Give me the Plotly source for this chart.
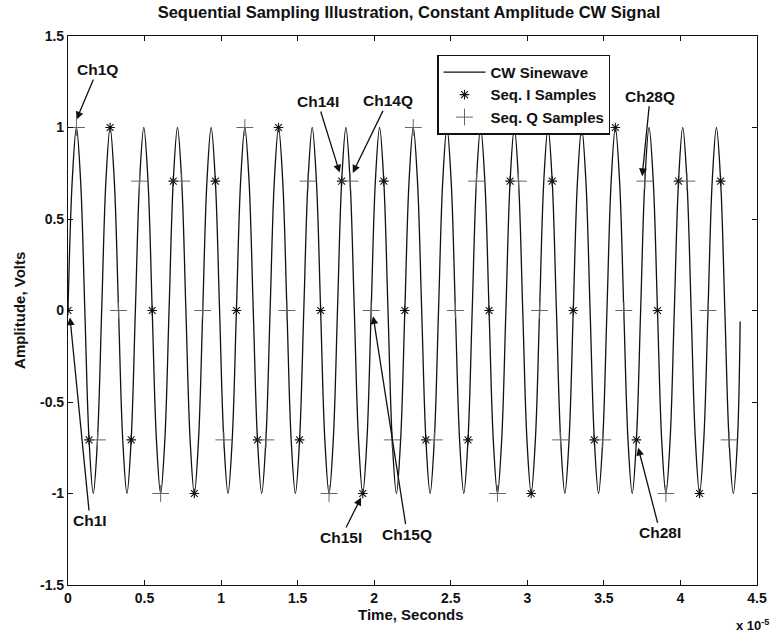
import plotly.graph_objects as go

# ---- data (time in units of 1e-5 s, amplitude in volts) ----
# CW sinewave vertices, read every 1/8 period (period ~0.22e-5 s), 20 cycles
cw_step = 0.0275
cw_v = [
    0, 0.707, 1, 0.707, 0, -0.707, -1, -0.707,
    0, 0.707, 1, 0.707, 0, -0.707, -1, -0.707,
    0, 0.707, 1, 0.707, 0, -0.707, -1, -0.707,
    0, 0.707, 1, 0.707, 0, -0.707, -1, -0.707,
    0, 0.707, 1, 0.707, 0, -0.707, -1, -0.707,
    0, 0.707, 1, 0.707, 0, -0.707, -1, -0.707,
    0, 0.707, 1, 0.707, 0, -0.707, -1, -0.707,
    0, 0.707, 1, 0.707, 0, -0.707, -1, -0.707,
    0, 0.707, 1, 0.707, 0, -0.707, -1, -0.707,
    0, 0.707, 1, 0.707, 0, -0.707, -1, -0.707,
    0, 0.707, 1, 0.707, 0, -0.707, -1, -0.707,
    0, 0.707, 1, 0.707, 0, -0.707, -1, -0.707,
    0, 0.707, 1, 0.707, 0, -0.707, -1, -0.707,
    0, 0.707, 1, 0.707, 0, -0.707, -1, -0.707,
    0, 0.707, 1, 0.707, 0, -0.707, -1, -0.707,
    0, 0.707, 1, 0.707, 0, -0.707, -1, -0.707,
    0, 0.707, 1, 0.707, 0, -0.707, -1, -0.707,
    0, 0.707, 1, 0.707, 0, -0.707, -1, -0.707,
    0, 0.707, 1, 0.707, 0, -0.707, -1, -0.707,
    0, 0.707, 1, 0.707, 0, -0.707, -1, -0.707,
]
cw_end_t = 4.39
cw_end_v = -0.06
cw_t = [i * cw_step for i in range(len(cw_v))] + [cw_end_t]
cw_v = cw_v + [cw_end_v]

i_t = [0, 0.1375, 0.275, 0.4125, 0.55, 0.6875, 0.825, 0.9625, 1.1, 1.2375,
       1.375, 1.5125, 1.65, 1.7875, 1.925, 2.0625, 2.2, 2.3375, 2.475, 2.6125,
       2.75, 2.8875, 3.025, 3.1625, 3.3, 3.4375, 3.575, 3.7125, 3.85, 3.9875,
       4.125, 4.2625]
i_v = [0, -0.707, 1, -0.707, 0, 0.707, -1, 0.707,
       0, -0.707, 1, -0.707, 0, 0.707, -1, 0.707,
       0, -0.707, 1, -0.707, 0, 0.707, -1, 0.707,
       0, -0.707, 1, -0.707, 0, 0.707, -1, 0.707]
q_t = [0.055, 0.1925, 0.33, 0.4675, 0.605, 0.7425, 0.88, 1.0175, 1.155, 1.2925,
       1.43, 1.5675, 1.705, 1.8425, 1.98, 2.1175, 2.255, 2.3925, 2.53, 2.6675,
       2.805, 2.9425, 3.08, 3.2175, 3.355, 3.4925, 3.63, 3.7675, 3.905, 4.0425,
       4.18, 4.3175]
q_v = [1, -0.707, 0, 0.707, -1, 0.707, 0, -0.707,
       1, -0.707, 0, 0.707, -1, 0.707, 0, -0.707,
       1, -0.707, 0, 0.707, -1, 0.707, 0, -0.707,
       1, -0.707, 0, 0.707, -1, 0.707, 0, -0.707]

x_ticks = [0, 0.5, 1, 1.5, 2, 2.5, 3, 3.5, 4, 4.5]
x_ticktext = ["0", "0.5", "1", "1.5", "2", "2.5", "3", "3.5", "4", "4.5"]
y_ticks = [-1.5, -1, -0.5, 0, 0.5, 1, 1.5]
y_ticktext = ["-1.5", "-1", "-0.5", "0", "0.5", "1", "1.5"]

# annotation labels: (text, head x, head y, text dx px, text dy px)
labels = [
    ("Ch1Q", 0.056, 1.044, 21, -50),
    ("Ch1I", 0.013, -0.038, 20, 203),
    ("Ch14I", 1.774, 0.754, -22, -71),
    ("Ch14Q", 1.86, 0.752, 35, -72),
    ("Ch15I", 1.914, -1.022, -20, 40),
    ("Ch15Q", 1.993, -0.031, 34, 218),
    ("Ch28Q", 3.75, 0.734, 8, -80),
    ("Ch28I", 3.724, -0.75, 22, 85),
]

FONT = "Arial, 'Liberation Sans', sans-serif"
INK = "#111111"


def fnt(size):
    return dict(family=FONT, size=size, color=INK, weight="bold")


fig = go.Figure()
fig.add_trace(go.Scatter(x=cw_t, y=cw_v, mode="lines", name="CW Sinewave",
                         line=dict(color=INK, width=1.3, shape="spline", smoothing=1.0)))
fig.add_trace(go.Scatter(x=i_t, y=i_v, mode="markers", name="Seq. I Samples",
                         marker=dict(symbol="asterisk-open", size=8, color=INK,
                                     line=dict(width=1.1, color=INK))))
fig.add_trace(go.Scatter(x=q_t, y=q_v, mode="markers", name="Seq. Q Samples",
                         marker=dict(symbol="cross-thin-open", size=12, color="#666666",
                                     line=dict(width=1, color="#666666"))))

annotations = []
for text, hx, hy, dx, dy in labels:
    annotations.append(dict(x=hx, y=hy, xref="x", yref="y", text=text, showarrow=True,
                            ax=dx, ay=dy, arrowhead=2, arrowsize=1.2, arrowwidth=1.3,
                            arrowcolor=INK, font=fnt(15.5)))

annotations += [
    dict(text="Time, Seconds", x=0.498, y=-0.053, xref="paper", yref="paper",
         showarrow=False, yanchor="middle", font=fnt(15)),
    dict(text="Amplitude, Volts", x=-0.0705, y=0.5, xref="paper", yref="paper",
         showarrow=False, textangle=-90, xanchor="center", yanchor="middle",
         font=fnt(15)),
    dict(text="x 10<sup>-5</sup>", x=0.993, y=-0.072, xref="paper", yref="paper",
         showarrow=False, xanchor="center", yanchor="middle",
         font=fnt(13)),
]

axis_common = dict(showline=True, linecolor=INK, linewidth=1.2, mirror="ticks",
                   ticks="inside", ticklen=5, tickcolor=INK, showgrid=False,
                   zeroline=False, tickfont=fnt(14))

fig.update_layout(
    width=779, height=633,
    margin=dict(l=68, r=13, t=36, b=48),
    paper_bgcolor="white", plot_bgcolor="white",
    title=dict(text="Sequential Sampling Illustration, Constant Amplitude CW Signal",
               x=0.525, xanchor="center", y=0.981, yanchor="middle",
               font=fnt(16.5)),
    xaxis=dict(range=[0, 4.5], tickvals=x_ticks, ticktext=x_ticktext, **axis_common),
    yaxis=dict(range=[-1.5, 1.5], tickvals=y_ticks, ticktext=y_ticktext, **axis_common),
    showlegend=True,
    legend=dict(x=0.536, y=0.966, xanchor="left", yanchor="top",
                bgcolor="white", bordercolor=INK, borderwidth=1.2,
                font=fnt(15), itemwidth=42, tracegroupgap=0),
    annotations=annotations,
)

fig.write_html("out.html")
